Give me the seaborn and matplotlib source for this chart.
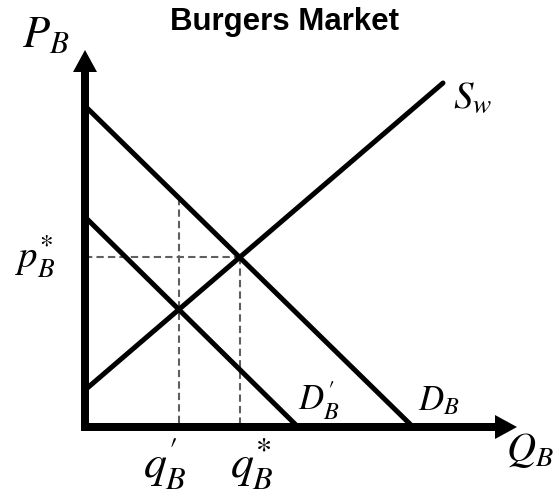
import matplotlib
matplotlib.use("Agg")
import matplotlib.pyplot as plt
import seaborn as sns
import numpy as np
import pandas as pd

# ---- data (1 unit of quantity / price) ----
curves = ["D_B", "D_B_prime", "S_w"]
curve_q = {"D_B": [0.0, 32.8], "D_B_prime": [0.0, 21.3], "S_w": [0.0, 35.8]}
curve_p = {"D_B": [32.1, 0.0], "D_B_prime": [21.0, 0.0], "S_w": [3.7, 34.4]}
axis_q_max = 43.2
axis_p_max = 37.7

title = "Burgers Market"
label_P = r"$P_B$"
label_Q = r"$Q_B$"
label_S = r"$S_w$"
label_D = r"$D_B$"
label_Dp = r"$D^{\prime}_B$"
label_pstar = r"$p^{*}_B$"
label_qstar = r"$q^{*}_B$"
label_qp = r"$q^{\prime}_B$"

sns.set_theme(style="white")
plt.rcParams["mathtext.fontset"] = "stix"
plt.rcParams["text.color"] = "black"

def line_coef(name):
    q0, q1 = curve_q[name]
    p0, p1 = curve_p[name]
    m = (p1 - p0) / (q1 - q0)
    return m, p0 - m * q0

def intersect(a, b):
    m1, c1 = line_coef(a)
    m2, c2 = line_coef(b)
    q = (c2 - c1) / (m1 - m2)
    return q, m1 * q + c1

q_star, p_star = intersect("D_B", "S_w")
q_prime, p_prime = intersect("D_B_prime", "S_w")
mD, cD = line_coef("D_B")
p_top_qprime = mD * q_prime + cD

df = pd.DataFrame(
    [(c, q, p) for c in curves for q, p in zip(curve_q[c], curve_p[c])],
    columns=["curve", "Q", "P"],
)
guides = pd.DataFrame({
    "guide": ["h", "h", "vs", "vs", "vp", "vp"],
    "Q": [0.0, q_star, q_star, q_star, q_prime, q_prime],
    "P": [p_star, p_star, p_star, 0.0, p_top_qprime, 0.0],
})

fig = plt.figure(figsize=(5.59, 4.96), dpi=100)
ax = fig.add_axes([0, 0, 1, 1])
ax.set_xlim(-8.5, 47.4)
ax.set_ylim(-6.9, 42.7)
ax.axis("off")

# dashed guides
sns.lineplot(data=guides, x="Q", y="P", units="guide", estimator=None, sort=False,
             color="#5f5f5f", lw=1.5, ax=ax, legend=False)
for ln in ax.lines:
    ln.set_dashes((3.5, 2.0))

# curves
sns.lineplot(data=df, x="Q", y="P", units="curve", estimator=None, sort=False,
             color="black", lw=3.6, ax=ax, legend=False)

# axes arrows
ax.arrow(0, -0.4, 0, axis_p_max + 0.4, width=0.8, head_width=2.4, head_length=2.2,
         length_includes_head=True, color="black", lw=0, zorder=5)
ax.arrow(-0.4, 0, axis_q_max + 0.4, 0, width=0.8, head_width=2.4, head_length=2.2,
         length_includes_head=True, color="black", lw=0, zorder=5)

# labels
ax.text(19.9, 39.7, title, ha="center", va="baseline", fontsize=22.5,
        fontweight="bold", family="Liberation Sans", color="black")
ax.text(-6.3, 38.0, label_P, ha="left", va="baseline", fontsize=32)
ax.text(42.1, -3.4, label_Q, ha="left", va="baseline", fontsize=29)
ax.text(36.8, 31.9, label_S, ha="left", va="baseline", fontsize=28)
ax.text(21.3, 1.7, label_Dp, ha="left", va="baseline", fontsize=25)
ax.text(33.3, 1.7, label_D, ha="left", va="baseline", fontsize=25)
ax.text(-2.9, 15.9, label_pstar, ha="right", va="baseline", fontsize=28)
ax.text(8.0, -5.1, label_qp, ha="center", va="baseline", fontsize=33)
ax.text(16.7, -5.1, label_qstar, ha="center", va="baseline", fontsize=33)

fig.savefig("out.png", dpi=100)
